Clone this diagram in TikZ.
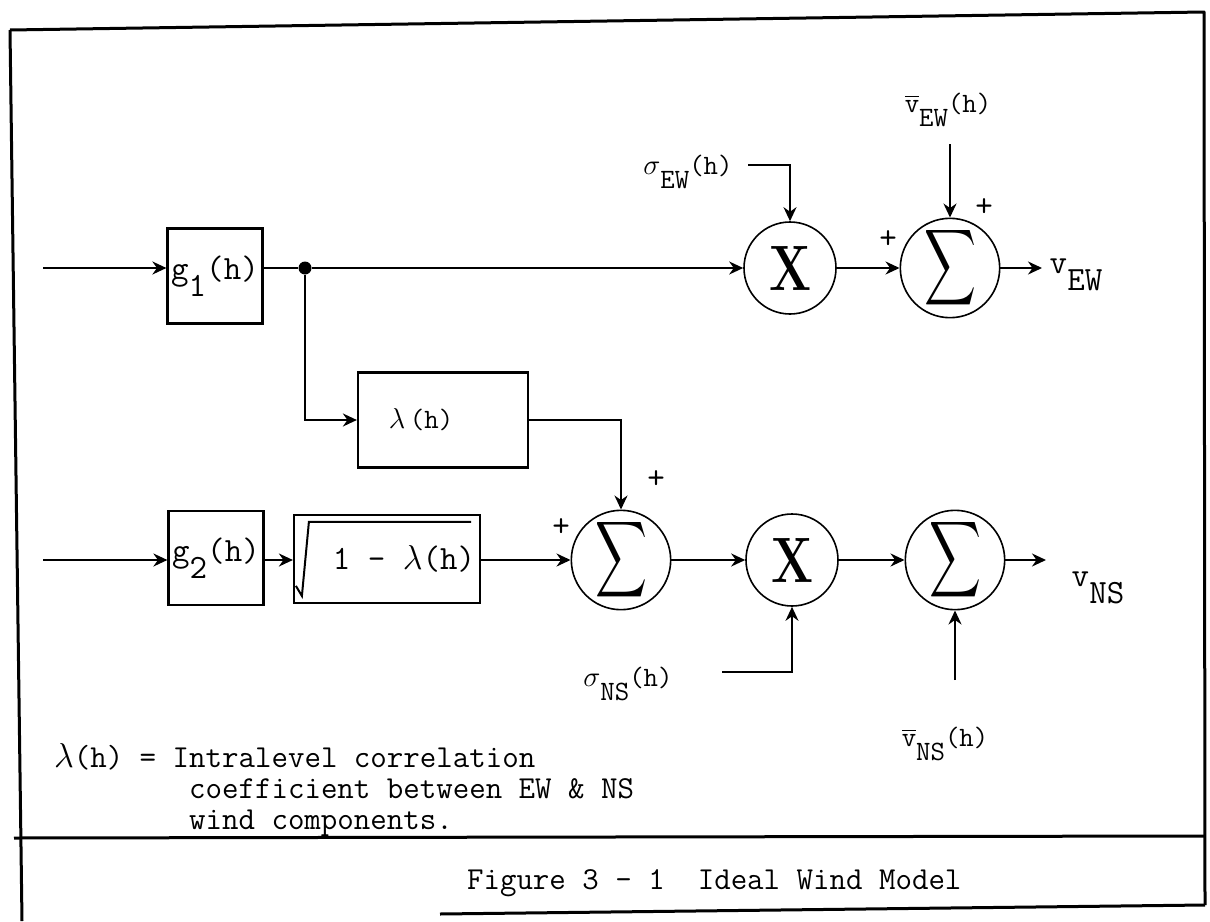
\documentclass[tikz,border=0pt]{standalone}
\usepackage{amsmath,amssymb}
\usepackage{graphicx}
\usetikzlibrary{arrows.meta,positioning,calc}
\newcommand{\dn}[1]{\raisebox{-0.5em}{#1}}
\newcommand{\vbar}{$\overline{\hbox{v}}$}
\newcommand{\bigx}{\resizebox{21pt}{22pt}{\rmfamily\bfseries X}}
\newcommand{\bigsig}{\resizebox{26pt}{28pt}{$\displaystyle\sum$}}

\begin{document}
\begin{tikzpicture}[x=0.5pt, y=-0.5pt,
    font=\ttfamily\fontsize{17}{14}\selectfont,
    frame/.style={line width=1.5pt, line join=round},
    blk/.style={rectangle, draw, line width=1.1pt, inner sep=0pt},
    junc/.style={circle, draw, line width=0.8pt, minimum size=46pt, inner sep=0pt},
    sig/.style={font=\ttfamily\fontsize{14}{14}\selectfont},
    txt/.style={font=\ttfamily\fontsize{16}{15.5}\selectfont},
    wire/.style={line width=1pt},
    arrow/.style={wire, -{Stealth[length=7pt, width=6.5pt]}},
    sgn/.style={inner sep=0pt, font=\ttfamily\fontsize{17}{17}\selectfont}
]
\useasboundingbox (0,0) rectangle (1210,921);

% Frame (scanned page, slightly skewed)
\draw[frame] (10,30) -- (1204,12) -- (1205,905);
\draw[frame] (10,30) -- (22,921);
\draw[frame] (440,914) -- (1205,905);
\draw[frame] (14,838) -- (1205,836);

% Blocks
\node[blk, minimum width=47.5pt, minimum height=47.5pt] (g1) at (215,276) {g\dn{1}(h)};
\node[blk, minimum width=85pt, minimum height=47.5pt,
      label={[sig, xshift=-11pt]center:$\lambda$\,(h)}] (lam) at (443,420) {};
\node[blk, minimum width=47.5pt, minimum height=47pt] (g2) at (216,558) {g\dn{2}(h)};
\node[blk, minimum width=93pt, minimum height=44pt,
      label={[xshift=8.5pt]center:1 - $\lambda$(h)}] (sqrtb) at (387,559) {};

% Junctions
\node[junc] (x1) at (790,268) {\bigx};
\node[junc] (s1) at (950,268) {\bigsig};
\node[junc] (s2) at (621,560) {\bigsig};
\node[junc] (x2) at (792,560) {\bigx};
\node[junc] (s3) at (955,560) {\bigsig};
\node[circle, fill, inner sep=0pt, minimum size=6.5pt] (dot) at (305,268) {};

% Signals
\node[sig] (sew) at (688,172) {$\sigma$\dn{EW}(h)};
\node[sig] (vew) at (948,110) {\vbar\dn{EW}(h)};
\node (vewo) at (1076,275) {v\dn{EW}};
\node[sig] (sns) at (628,684) {$\sigma$\dn{NS}(h)};
\node[sig] (vns) at (945,744) {\vbar\dn{NS}(h)};
\node (vnso) at (1098,588) {v\dn{NS}};

% Signs
\node[sgn] (p1) at (888,240) {+};
\node[sgn] (p2) at (984,208) {+};
\node[sgn] (p3) at (561,528) {+};
\node[sgn] (p4) at (656,480) {+};

% Free ends
\coordinate (in1) at (43,268);
\coordinate (in2) at (43,560);
\coordinate (out1) at (1042,268);
\coordinate (out2) at (1046,560);
\coordinate (vewtop) at (950,144);
\coordinate (vnsbot) at (955,680);
\coordinate (sewc) at (748,165);
\coordinate (snsc) at (722,672);

% Top row
\draw[arrow] (in1) -- (in1 -| g1.west);
\draw[wire] (in1 -| g1.east) -- (dot);
\draw[arrow] (dot) -- (x1);
\draw[arrow] (x1) -- (s1);
\draw[arrow] (s1) -- (out1);
\draw[arrow] (sewc) -| (x1);
\draw[arrow] (vewtop) -- (s1);

% Cross link
\draw[arrow] (dot) |- (lam.west);
\draw[arrow] (lam.east) -| (s2);

% Bottom row
\draw[arrow] (in2) -- (in2 -| g2.west);
\draw[arrow] (g2.east |- in2) -- (sqrtb.west |- in2);
\draw[arrow] (sqrtb.east |- in2) -- (s2);
\draw[arrow] (s2) -- (x2);
\draw[arrow] (x2) -- (s3);
\draw[arrow] (s3) -- (out2);
\draw[arrow] (snsc) -| (x2);
\draw[arrow] (vnsbot) -- (s3);

% Radical sign
\draw[wire] ($(sqrtb.north west)+(3,72)$) -- ++(6,10) -- ++(7,-74)
  -- ($(sqrtb.north east)+(-10,8)$);

% Note and caption
\node[txt, anchor=west, align=left] (note) at (47,790)
  {$\lambda$(h) = Intralevel correlation\\
   \hphantom{$\lambda$(h) = I}coefficient between EW \& NS\\
   \hphantom{$\lambda$(h) = I}wind components.};
\node[txt, anchor=west] (cap) at (460,883) {Figure 3 - 1\ \ Ideal Wind Model};
\end{tikzpicture}
\end{document}
